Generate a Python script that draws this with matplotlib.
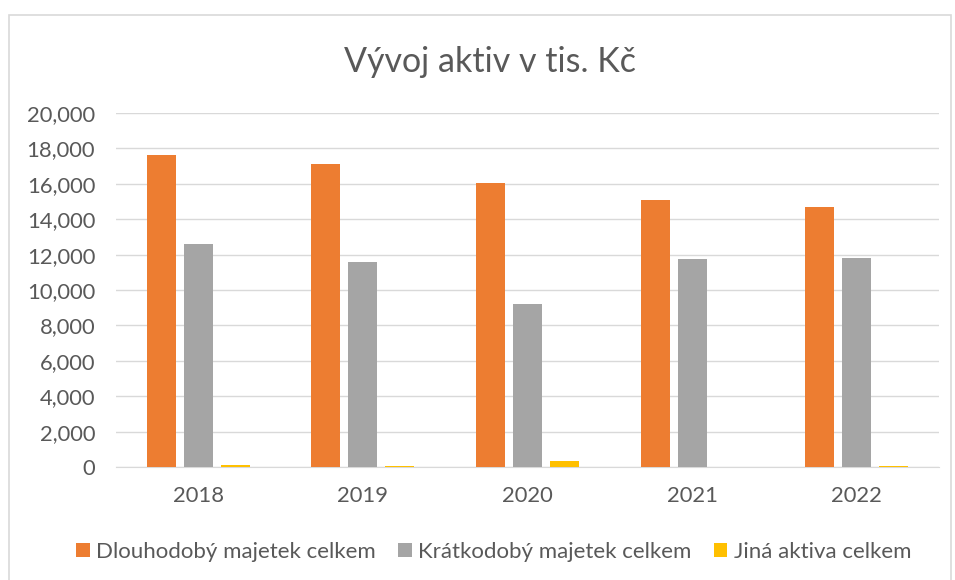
import matplotlib.pyplot as plt
from matplotlib.patches import Rectangle
from matplotlib.ticker import FuncFormatter
import numpy as np

plt.rcParams['font.family'] = ['Lato', 'DejaVu Sans']

roky = ['2018', '2019', '2020', '2021', '2022']
dlouhodoby = [17600, 17100, 16050, 15070, 14700]
kratkodoby = [12580, 11560, 9200, 11750, 11780]
jina = [110, 70, 360, 20, 70]

serie = [
    ('Dlouhodobý majetek celkem', dlouhodoby, '#ED7D31'),
    ('Krátkodobý majetek celkem', kratkodoby, '#A5A5A5'),
    ('Jiná aktiva celkem', jina, '#FFC000'),
]

fig = plt.figure(figsize=(9.55, 5.8), dpi=100)
ax = fig.add_axes([116 / 955, 1 - 467 / 580, (939 - 116) / 955, (467 - 113) / 580])

# ramecek grafu (spodni hrana je mimo obrazek)
fig.patches.append(Rectangle((8.5 / 955, -10 / 580), 942 / 955, 575 / 580, transform=fig.transFigure,
                             fill=False, edgecolor='#d9d9d9', linewidth=1.2))

x = np.arange(len(roky))
sirka = 0.176
posun = 0.225
for i, (nazev, hodnoty, barva) in enumerate(serie):
    ax.bar(x + (i - 1) * posun, hodnoty, width=sirka, color=barva, label=nazev, zorder=3)

ax.set_xlim(-0.5, len(roky) - 0.5)
ax.set_ylim(0, 20000)
ax.set_yticks(range(0, 20001, 2000))
ax.yaxis.set_major_formatter(FuncFormatter(lambda v, p: f'{int(v):,}'))
ax.set_xticks(x)
ax.set_xticklabels(roky)
ax.grid(axis='y', color='#d9d9d9', linewidth=1, zorder=0)
for s in ['top', 'right', 'left']:
    ax.spines[s].set_visible(False)
ax.spines['bottom'].set_color('#d9d9d9')
ax.tick_params(axis='both', length=0, labelsize=15.8, colors='#595959')
ax.tick_params(axis='y', pad=15)
ax.tick_params(axis='x', pad=14)

fig.text(490 / 955, 1 - 62 / 580, 'Vývoj aktiv v tis. Kč', ha='center', va='center',
         fontsize=24.5, color='#595959')

fig.legend(loc='center', bbox_to_anchor=(494 / 955, 1 - 552 / 580), ncol=3, frameon=False,
           fontsize=16, labelcolor='#595959', handlelength=0.6, handleheight=0.6,
           columnspacing=1.0, handletextpad=0.3)

fig.savefig('out.png', dpi=100)
